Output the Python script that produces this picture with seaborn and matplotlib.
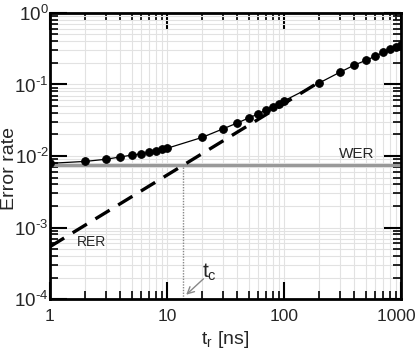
import numpy as np
import pandas as pd
import seaborn as sns
import matplotlib
matplotlib.use("Agg")
from matplotlib import pyplot as plt
from matplotlib import ticker

# measured error rate vs. read time
t_read = [1, 2, 3, 4, 5, 6, 7, 8, 9, 10, 20, 30, 40, 50, 60, 70, 80, 90, 100,
          200, 300, 400, 500, 600, 700, 800, 900, 1000]
err_rate = [7.9e-3, 8.4e-3, 9.0e-3, 9.7e-3, 1.03e-2, 1.07e-2, 1.12e-2, 1.16e-2,
            1.24e-2, 1.28e-2, 1.82e-2, 2.39e-2, 2.9e-2, 3.4e-2, 3.86e-2, 4.4e-2,
            4.9e-2, 5.4e-2, 5.9e-2, 0.105, 0.148, 0.187, 0.217, 0.247, 0.28,
            0.31, 0.334, 0.357]

# RER asymptote and WER level
rer_t = [1, 200]
rer_val = [5.4e-4, 0.108]
wer_t = [1, 1000]
wer_val = [7.5e-3, 7.5e-3]
t_c = 13.6


def x_label(v, p):
    s = "%d" % round(v)
    # last label sits at the right edge, pad it so it shifts a bit left
    return s + "\u00a0\u00a0" if s == "1000" else s


def y_label(v, p):
    e = round(np.log10(v))
    return r"$\mathregular{10^{%s}}$" % ("\u2010%d" % -e if e < 0 else "%d" % e)


sns.set_theme(style="ticks")
plt.rcParams["font.family"] = ["Liberation Sans", "DejaVu Sans"]
plt.rcParams["mathtext.fontset"] = "custom"
plt.rcParams["mathtext.rm"] = "Liberation Sans"
plt.rcParams["mathtext.it"] = "Liberation Sans:italic"

fig = plt.figure(figsize=(4.16, 3.49), dpi=100)
ax = fig.add_axes([0.120, 0.143, 0.844, 0.820])

df = pd.DataFrame({"t": t_read, "err": err_rate})

ax.set_xscale("log")
ax.set_yscale("log")

# light grid
ax.grid(True, which="major", color="#e2e2e2", lw=0.8, zorder=0)
ax.grid(True, which="minor", color="#e2e2e2", lw=0.8, zorder=0)

ax.plot(wer_t, wer_val, color="#999999", lw=2.2, zorder=2)
ax.plot(rer_t, rer_val, color="black", lw=2.4, dashes=(5, 3), zorder=3)
ax.plot([t_c, t_c], [1e-4, wer_val[0]], color="#888888", lw=1.0, ls=(0, (1, 1)), zorder=2)

sns.lineplot(data=df, x="t", y="err", ax=ax, color="black", lw=0.9,
             marker="o", markersize=5.5, markeredgecolor="black", zorder=4)

ax.set_xlim(1, 1000)
ax.set_ylim(1e-4, 1)

ax.xaxis.set_major_locator(ticker.LogLocator(base=10, numticks=10))
ax.xaxis.set_minor_locator(ticker.LogLocator(base=10, subs=np.arange(2, 10), numticks=20))
ax.yaxis.set_major_locator(ticker.LogLocator(base=10, numticks=10))
ax.yaxis.set_minor_locator(ticker.LogLocator(base=10, subs=np.arange(2, 10), numticks=20))
ax.xaxis.set_major_formatter(ticker.FuncFormatter(x_label))
ax.yaxis.set_major_formatter(ticker.FuncFormatter(y_label))
ax.xaxis.set_minor_formatter(ticker.NullFormatter())
ax.yaxis.set_minor_formatter(ticker.NullFormatter())

ax.tick_params(which="both", direction="in", top=True, right=True, color="black")
ax.tick_params(which="major", length=12, width=1.5)
ax.tick_params(which="minor", length=6, width=1.2)
ax.tick_params(axis="x", which="major", labelsize=12.5, pad=7)
ax.tick_params(axis="y", which="major", labelsize=13.5, pad=1)
for s in ax.spines.values():
    s.set_linewidth(2.0)
    s.set_color("black")

ax.set_xlabel(r"$\mathregular{t_r}$ [ns]", fontsize=14)
ax.set_ylabel("Error rate", fontsize=14)
ax.xaxis.set_label_coords(0.5, -0.103)
ax.yaxis.set_label_coords(-0.092, 0.455)

ax.text(294, 1.06e-2, "WER", fontsize=11, va="center")
ax.text(1.70, 6.2e-4, "RER", fontsize=10, va="center")
ax.text(20.0, 2.35e-4, r"$\mathregular{t_c}$", fontsize=15, va="center")
ax.annotate("", xy=(14.6, 1.15e-4), xytext=(20.5, 1.92e-4),
            arrowprops=dict(arrowstyle="->", color="#888888", lw=1.0,
                            shrinkA=0, shrinkB=0))

fig.savefig("out.png", dpi=100)
